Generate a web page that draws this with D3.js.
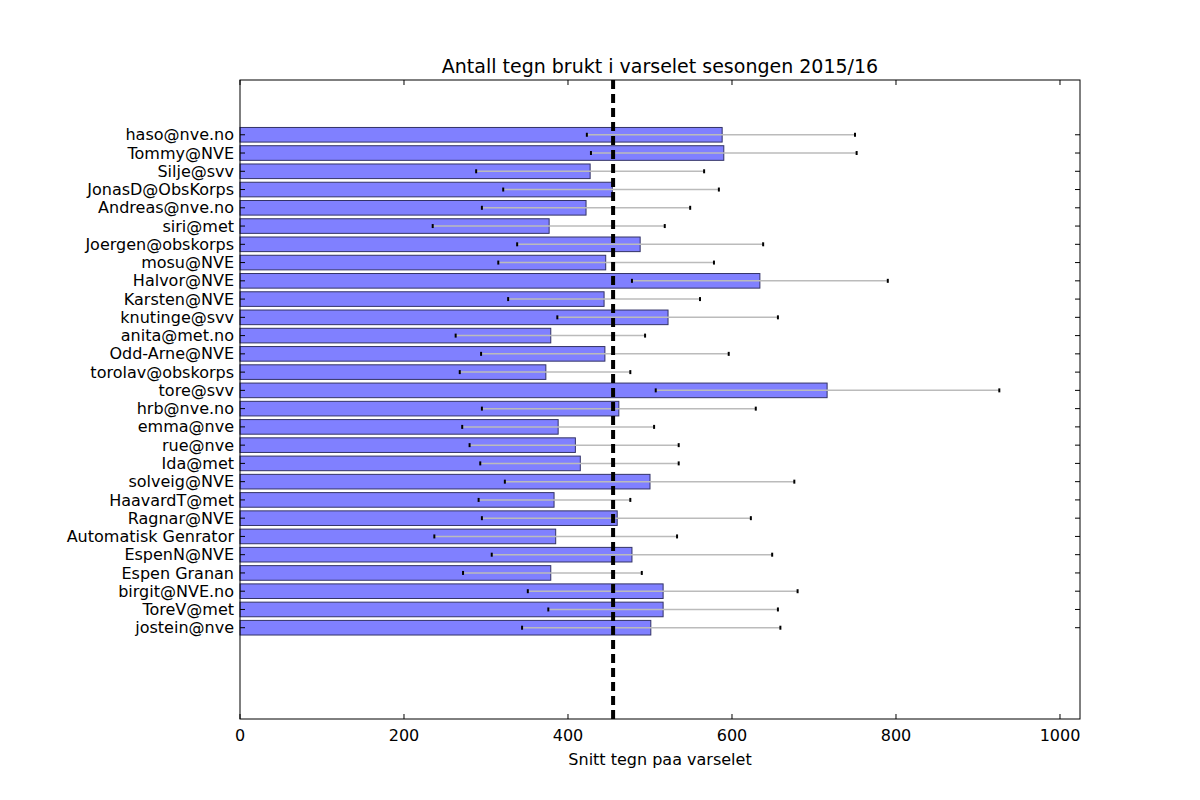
<!DOCTYPE html>
<html><head><meta charset="utf-8">
<script src="https://cdn.jsdelivr.net/npm/d3@7"></script>
<style>body{margin:0;background:#fff}text{font-family:"DejaVu Sans",sans-serif}</style>
</head><body><svg id="c" width="1200" height="800"></svg>
<script>
const names=["haso@nve.no","Tommy@NVE","Silje@svv","JonasD@ObsKorps","Andreas@nve.no","siri@met","Joergen@obskorps","mosu@NVE","Halvor@NVE","Karsten@NVE","knutinge@svv","anita@met.no","Odd-Arne@NVE","torolav@obskorps","tore@svv","hrb@nve.no","emma@nve","rue@nve","Ida@met","solveig@NVE","HaavardT@met","Ragnar@NVE","Automatisk Genrator","EspenN@NVE","Espen Granan","birgit@NVE.no","ToreV@met","jostein@nve"];
const means=[588,590,427,454,422,377,488,446,634,444,522,379,445,373,716,462,388,409,415,500,383,460,385,478,379,516,516,501];
const lows=[423,428,288,321,295,235,338,315,478,327,387,263,294,268,507,295,271,280,293,323,291,295,237,307,272,351,376,344];
const highs=[750,752,566,584,549,518,638,578,790,561,656,494,596,476,926,629,505,535,535,676,476,623,533,649,490,680,656,659];
const overallMean=455;
const xTicks=[0,200,400,600,800,1000];

const svg=d3.select("#c");
const L=240,R=1080,T=80,B=719;
const x=d3.scaleLinear().domain([0,1024.4]).range([L,R]);
const n=names.length;
const y=d3.scaleLinear().domain([-5,30]).range([B,T]);
const yi=i=>y(n-1-i);
const h=y(0)-y(0.8);

const g=svg.append("g");
g.selectAll(".bar").data(means).join("rect")
 .attr("x",x(0)).attr("y",(d,i)=>yi(i)-h/2).attr("width",d=>x(d)-x(0)).attr("height",h)
 .attr("fill","#8080ff").attr("stroke","#333366").attr("stroke-width",1);
g.selectAll(".err").data(means).join("line")
 .attr("x1",(d,i)=>x(lows[i])).attr("x2",(d,i)=>x(highs[i]))
 .attr("y1",(d,i)=>yi(i)).attr("y2",(d,i)=>yi(i)).attr("stroke","#bbb").attr("stroke-width",1.5);
[lows,highs].forEach(arr=>{
 g.selectAll(null).data(arr).join("line")
  .attr("x1",d=>x(d)).attr("x2",d=>x(d)).attr("y1",(d,i)=>yi(i)-2).attr("y2",(d,i)=>yi(i)+2)
  .attr("stroke","#000").attr("stroke-width",2);
});
g.append("line").attr("x1",x(overallMean)).attr("x2",x(overallMean)).attr("y1",T).attr("y2",B)
 .attr("stroke","#000").attr("stroke-width",4).attr("stroke-dasharray","9,5");

svg.append("rect").attr("x",L).attr("y",T).attr("width",R-L).attr("height",B-T).attr("fill","none").attr("stroke","#000");
// x axis
xTicks.forEach(t=>{
 svg.append("line").attr("x1",x(t)).attr("x2",x(t)).attr("y1",B).attr("y2",B-5).attr("stroke","#000");
 svg.append("line").attr("x1",x(t)).attr("x2",x(t)).attr("y1",T).attr("y2",T+5).attr("stroke","#000");
 svg.append("text").attr("x",x(t)).attr("y",B+22).attr("text-anchor","middle").attr("font-size",16).text(t);
});
names.forEach((nm,i)=>{
 svg.append("line").attr("x1",L).attr("x2",L+5).attr("y1",yi(i)).attr("y2",yi(i)).attr("stroke","#000");
 svg.append("line").attr("x1",R).attr("x2",R-5).attr("y1",yi(i)).attr("y2",yi(i)).attr("stroke","#000");
 svg.append("text").attr("x",L-6).attr("y",yi(i)).attr("dy","0.35em").attr("text-anchor","end").attr("font-size",16).text(nm);
});
svg.append("text").attr("x",(L+R)/2).attr("y",765).attr("text-anchor","middle").attr("font-size",16).text("Snitt tegn paa varselet");
svg.append("text").attr("x",(L+R)/2).attr("y",73).attr("text-anchor","middle").attr("font-size",19).text("Antall tegn brukt i varselet sesongen 2015/16");
</script></body></html>
